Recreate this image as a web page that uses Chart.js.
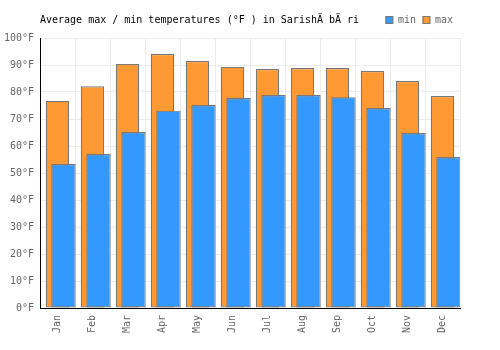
<!DOCTYPE html>
<html>
<head>
<meta charset="utf-8">
<script src="https://cdn.jsdelivr.net/npm/chart.js@4/dist/chart.umd.min.js"></script>
<style>
  html, body { margin: 0; padding: 0; background: #fff; }
  #wrap { width: 500px; height: 350px; }
</style>
</head>
<body>
<div id="wrap"><canvas id="myChart"></canvas></div>
<script>
    "use strict";

    const chartTitle = 'Average max / min temperatures (\u00B0F ) in Sarish\u00C4 b\u00C4 ri';
    const months = ['Jan', 'Feb', 'Mar', 'Apr', 'May', 'Jun', 'Jul', 'Aug', 'Sep', 'Oct', 'Nov', 'Dec'];
    const maxTemps = [76.7, 82.1, 90.4, 94.1, 91.5, 89.3, 88.5, 88.9, 88.9, 87.8, 84.1, 78.5];
    const minTemps = [53.3, 57.0, 65.2, 73.1, 75.2, 77.8, 78.9, 78.9, 78.1, 74.1, 64.8, 55.9];
    const yTicks = [0, 10, 20, 30, 40, 50, 60, 70, 80, 90, 100];

    const monoFont = "'DejaVu Sans Mono', monospace";

    // title sits on the same row as the legend, so draw it by hand
    const titlePlugin = {
        id: 'sideTitle',
        afterDraw(chart) {
            const c = chart.ctx;
            c.save();
            c.font = '10px ' + monoFont;
            c.fillStyle = '#000';
            c.textBaseline = 'middle';
            c.textAlign = 'left';
            c.fillText(chartTitle, 40, 20);
            c.restore();
        }
    };

    // make legend row exactly as tall as the header
    const legendHeight = {
        id: 'legendHeight',
        beforeInit(chart) {
            const origFit = chart.legend.fit;
            chart.legend.fit = function () {
                origFit.bind(chart.legend)();
                this.height = 30;
            };
        }
    };

    var ctx = document.getElementById('myChart').getContext('2d');
    var chart = new Chart(ctx, {
        type: 'bar',
        data: {
            labels: months,
            datasets: [
                {
                    // spacer, only pushes the min bars to the right
                    label: '',
                    data: []
                },
                {
                    label: 'min',
                    data: minTemps,
                    backgroundColor: '#3399ff',
                    borderColor: '#777777',
                    borderWidth: 1.2,
                    borderSkipped: false,
                    categoryPercentage: 0.686,
                    barPercentage: 2.03
                },
                {
                    label: 'max',
                    data: maxTemps,
                    grouped: false,
                    backgroundColor: '#ff9933',
                    borderColor: '#777777',
                    borderWidth: 1.2,
                    borderSkipped: false,
                    categoryPercentage: 1,
                    barPercentage: 0.67
                }
            ]
        },
        options: {
            responsive: true,
            maintainAspectRatio: false,
            animation: false,
            layout: { padding: { top: 8, right: 40, bottom: 0, left: 0 } },
            plugins: {
                title: { display: false },
                tooltip: { enabled: false },
                legend: {
                    position: 'top',
                    align: 'end',
                    labels: {
                        boxWidth: 7,
                        boxHeight: 7,
                        padding: 7,
                        color: '#666',
                        font: { family: monoFont, size: 10 },
                        filter: (item) => item.datasetIndex > 0
                    }
                }
            },
            scales: {
                x: {
                    type: 'category',
                    offset: true,
                    grid: { color: '#ececec', offset: true, drawTicks: false },
                    border: { color: '#000', width: 1 },
                    ticks: {
                        color: '#666',
                        font: { family: monoFont, size: 10 },
                        minRotation: 90,
                        maxRotation: 90,
                        padding: 7
                    },
                    afterFit: (s) => { s.height = 42; }
                },
                y: {
                    min: yTicks[0],
                    max: yTicks[yTicks.length - 1],
                    grid: { color: '#ececec', drawTicks: false },
                    border: { color: '#000', width: 1 },
                    afterBuildTicks: (s) => { s.ticks = yTicks.map(v => ({ value: v })); },
                    ticks: {
                        color: '#666',
                        font: { family: monoFont, size: 10 },
                        padding: 6,
                        callback: (v) => v + '°F'
                    },
                    afterFit: (s) => { s.width = 40; }
                }
            }
        },
        plugins: [titlePlugin, legendHeight]
    });
</script>
</body>
</html>
